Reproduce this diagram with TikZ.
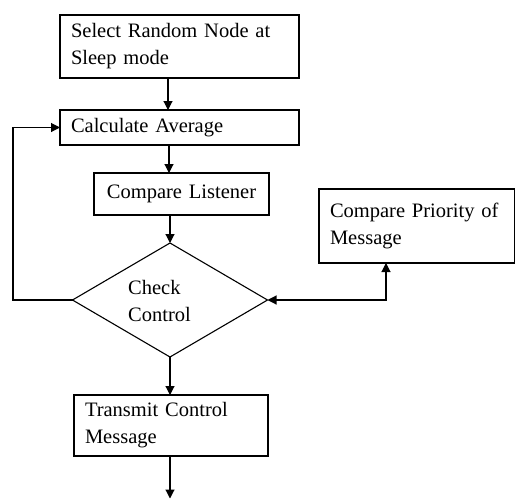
\documentclass[tikz,border=0pt]{standalone}
\usepackage{fontspec}
\setmainfont{Liberation Serif}
\usetikzlibrary{shapes.geometric,arrows.meta}
\begin{document}
\begin{tikzpicture}[x=1pt,y=-1pt,
  every node/.style={font=\fontsize{20.5}{27}\selectfont},
  flowbox/.style={draw, line width=1.1pt, rectangle, inner xsep=11pt, inner ysep=0pt,
    outer sep=0pt, anchor=north west, align=left},
  decision/.style={draw, line width=1.1pt, diamond, inner sep=0pt, outer sep=0pt,
    minimum width=195pt, minimum height=114pt},
  arr/.style={line width=1.1pt, -{Triangle[length=9pt,width=9pt]}},
  dblarr/.style={line width=1.1pt, {Triangle[length=9pt,width=9pt]}-{Triangle[length=9pt,width=9pt]}}]
\useasboundingbox (0,0) rectangle (515,499);

\node[flowbox, minimum width=239pt, minimum height=63pt, text width=217pt] (b1) at (60,15)
  {Select Random Node at\\Sleep mode};
\node[flowbox, minimum width=239pt, minimum height=35pt, text width=217pt] (b2) at (60,110)
  {Calculate Average};
\node[flowbox, minimum width=175pt, minimum height=42pt, text width=153pt, align=center] (b3) at (94,173)
  {Compare Listener};
\node[decision] (chk) at (170,300) {};
\node[anchor=west, align=left, inner sep=0pt] (chktxt) at (128,301) {Check\\Control};
\node[flowbox, minimum width=194pt, minimum height=61pt, text width=172pt] (b5) at (74,395)
  {Transmit Control\\Message};
\node[flowbox, minimum width=195.5pt, minimum height=74pt, text width=174pt, inner ysep=0pt] (b4) at (319,189)
  {Compare Priority of\\Message\\[4pt]};

\coordinate (lp) at (13,0);
\coordinate (pr) at (386,0);
\coordinate (endc) at (170,498.5);

\draw[arr] ([xshift=108pt]b1.south west) -- ([xshift=108pt]b2.north west);
\draw[arr] ([xshift=109pt]b2.south west) -- ([xshift=109pt]b2.south west |- b3.north);
\draw[arr] (chk.north |- b3.south) -- (chk.north);
\draw[arr] (chk.south) -- (chk.south |- b5.north);
\draw[arr] (b5.south -| chk.south) -- (endc);
\draw[arr] (chk.west) -- (chk.west -| lp) |- (b2.west);
\draw[dblarr] (chk.east) -| (pr |- b4.south);
\end{tikzpicture}
\end{document}
